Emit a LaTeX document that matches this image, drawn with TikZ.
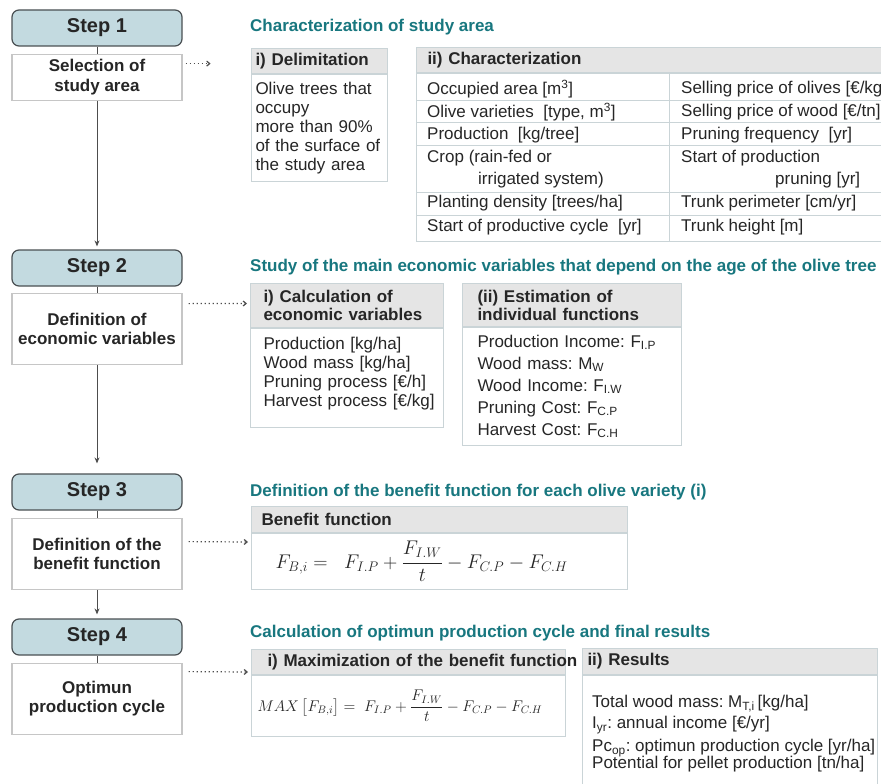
\RequirePackage{fix-cm}
\documentclass[tikz,border=0pt]{standalone}
\usepackage{amsmath}
\usepackage{fontspec}
\setmainfont{Liberation Sans}
\frenchspacing
\usetikzlibrary{arrows.meta,positioning,calc}
\definecolor{stepfill}{HTML}{C3DAE0}
\definecolor{stepline}{HTML}{4A5053}
\definecolor{ttlcol}{HTML}{18777F}
\definecolor{hdrfill}{HTML}{E5E5E5}
\definecolor{tabline}{HTML}{CAD4D7}
\definecolor{boxline}{HTML}{C6C6C6}
\definecolor{txtcol}{HTML}{262626}
\definecolor{conncol}{HTML}{4D4D4D}

\begin{document}
\begin{tikzpicture}[x=1pt, y=-1pt,
    stepbox/.style={draw=stepline, fill=stepfill, line width=1.2pt, rounded corners=7pt,
                    minimum width=170pt, minimum height=36pt, text=txtcol,
                    font=\fontsize{20}{24}\selectfont\bfseries},
    descbox/.style={draw=boxline, fill=white, line width=1.2pt, minimum width=170pt,
                    align=center, text=txtcol, font=\fontsize{17}{19.5}\selectfont\bfseries},
    ttl/.style={anchor=west, inner sep=0pt, text=ttlcol, font=\fontsize{17}{20}\selectfont\bfseries},
    hdr/.style={draw=tabline, fill=hdrfill, line width=1pt, anchor=north west, align=left,
                inner ysep=0pt, text=txtcol, font=\fontsize{17}{18}\selectfont\bfseries},
    tabbody/.style={draw=tabline, fill=white, line width=1pt, below=0pt of #1, align=left,
                inner ysep=0pt, text=txtcol, font=\fontsize{17}{19}\selectfont},
    cell/.style={anchor=west, inner sep=0pt, text=txtcol, font=\fontsize{17}{21}\selectfont},
    conn/.style={conncol, line width=1pt},
    arr/.style={conn, -{Stealth[length=6pt, width=5pt]}},
    dotarr/.style={conncol, line width=1.2pt, dash pattern=on 1.2pt off 2.8pt,
                   -{Straight Barb[length=3pt, width=5pt]}}]
  \useasboundingbox[fill=white] (0,0) rectangle (881,784);

  % steps on the left
  \node[stepbox] (s1) at (97,28) {Step 1};
  \node[descbox, below=7pt of s1, minimum height=46pt] (sel) {Selection of\\study area};
  \node[stepbox] (s2) at (97,268) {Step 2};
  \node[descbox, below=6pt of s2, minimum height=71pt] (def) {Definition of\\economic variables};
  \node[stepbox] (s3) at (97,492) {Step 3};
  \node[descbox, below=7pt of s3, minimum height=71pt] (bfn) {Definition of the\\benefit function};
  \node[stepbox] (s4) at (97,637) {Step 4};
  \node[descbox, below=7pt of s4, minimum height=71pt] (opt) {Optimun\\production cycle};

  \draw[conn] (s1) -- (sel);
  \draw[arr, shorten >=3pt] (sel) -- (s2);
  \draw[conn] (s2) -- (def);
  \draw[arr, shorten >=10pt] (def) -- (s3);
  \draw[conn] (s3) -- (bfn);
  \draw[arr, shorten >=4pt] (bfn) -- (s4);
  \draw[conn] (s4) -- (opt);

  % titles
  \node[ttl] (t1) at (250,27) {Characterization of study area};
  \node[ttl] (t2) at (250,267) {Study of the main economic variables that depend on the age of the olive tree};
  \node[ttl] (t3) at (250,492) {Definition of the benefit function for each olive variety (i)};
  \node[ttl] (t4) at (250,633) {Calculation of optimun production cycle and final results};

  % step 1
  \node[hdr, text width=128pt, inner xsep=4pt, minimum height=25pt] (delh) at (251,48) {i) Delimitation};
  \node[tabbody=delh, text width=128pt, inner xsep=4pt, minimum height=107pt] (delb)
    {Olive trees that\\occupy\\more than 90\%\\of the surface of\\the study area};

  \node[hdr, text width=458pt, inner xsep=11pt, minimum height=25pt] (charh) at (416,47) {ii) Characterization};
  \node[tabbody=charh, text width=458pt, inner xsep=11pt, minimum height=168pt] (charb) {};
  \foreach \yy in {100,122,145,192,215}
    \draw[tabline, line width=1pt] (charb.west |- 0,\yy) -- (charb.east |- 0,\yy);
  \draw[tabline, line width=1pt] (669,0 |- charb.north) -- (669,0 |- charb.south);
  \foreach \yy/\lft/\rgt [count=\i] in {89/{Occupied area [m\textsuperscript{3}]}/{Selling price of olives [€/kg]},
      112/{Olive varieties\ \ [type, m\textsuperscript{3}]}/{Selling price of wood [€/tn]},
      135/{Production\ \ [kg/tree]}/{Pruning frequency\ \ [yr]},
      203/{Planting density [trees/ha]}/{Trunk perimeter [cm/yr]},
      227/{Start of productive cycle\ \ [yr]}/{Trunk height [m]}} {
    \node[cell] (l\i) at (427,\yy) {\lft};
    \node[cell] (r\i) at (681,\yy) {\rgt};
  }
  \node[cell] (crop1) at (427,158) {Crop (rain-fed or};
  \node[cell] (crop2) at (478,180) {irrigated system)};
  \node[cell] (prun1) at (681,158) {Start of production};
  \node[cell] (prun2) at (775,180) {pruning [yr]};

  \draw[dotarr] ([xshift=3pt,yshift=-10pt]sel.north east) -- ++(25,0) coordinate (selend);

  % step 2
  \node[hdr, text width=167pt, inner xsep=13pt, minimum height=44pt] (calch) at (250,283)
    {i) Calculation of\\economic variables};
  \node[tabbody=calch, text width=167pt, inner xsep=13pt, minimum height=99pt] (calcb)
    {Production [kg/ha]\\Wood mass [kg/ha]\\Pruning process [€/h]\\\mbox{Harvest process [€/kg]}\\[-6pt]\mbox{}};
  \node[hdr, text width=189pt, inner xsep=15pt, minimum height=43pt] (esth) at (462,283)
    {(ii) Estimation of\\individual functions};
  \node[tabbody=esth, text width=189pt, inner xsep=15pt, minimum height=118pt,
        font=\fontsize{17}{22}\selectfont] (estb)
    {Production Income: F\textsubscript{I.P}\\Wood mass: M\textsubscript{W}\\Wood Income: F\textsubscript{I.W}\\
     Pruning Cost: F\textsubscript{C.P}\\Harvest Cost: F\textsubscript{C.H}};
  \draw[dotarr] ([xshift=6pt,yshift=-11pt]def.north east) -- ([xshift=-3pt,yshift=2pt]calch.west);

  % step 3
  \node[hdr, text width=356pt, inner xsep=10pt, minimum height=26pt] (benh) at (251,506) {Benefit function};
  \node[tabbody=benh, text width=356pt, inner xsep=10pt, minimum height=56pt] (benb)
    {\hspace{14pt}\fontsize{19.8}{24}\selectfont $F_{B,i} =\;\; F_{I.P} + \dfrac{F_{I.W}}{t} - F_{C.P} - F_{C.H}$};
  \draw[dotarr] ([xshift=6pt,yshift=-24pt]bfn.north east) -- ([xshift=-3pt,yshift=-9pt]benh.south west);

  % step 4
  \node[hdr, text width=282pt, inner xsep=16pt, minimum height=25pt] (maxh) at (251,649)
    {\mbox{i) Maximization of the benefit function}};
  \node[tabbody=maxh, text width=302pt, inner xsep=6pt, minimum height=61pt] (maxb)
    {\fontsize{15.5}{19}\selectfont $MAX\,\bigl[F_{B,i}\bigr] =\; F_{I.P} + \dfrac{F_{I.W}}{t} - F_{C.P} - F_{C.H}$};
  \node[hdr, text width=285pt, inner xsep=5pt, minimum height=26pt] (resh) at (582,648) {ii) Results};
  \node[tabbody=resh, text width=285pt, inner xsep=5pt, minimum height=126pt] (resb) {};
  \node[cell, anchor=north west, align=left] (resl) at (592,695)
    {Total wood mass: M\textsubscript{T,i}\,[kg/ha]\\ I\textsubscript{yr}: annual income [€/yr]\\[2pt]
     Pc\textsubscript{op}: optimun production cycle [yr/ha]\\[-4pt] Potential for pellet production [tn/ha]};
  \draw[dotarr] ([xshift=6pt,yshift=-9pt]opt.north east) -- ([xshift=-3pt,yshift=3pt]maxh.south west);
\end{tikzpicture}
\end{document}
